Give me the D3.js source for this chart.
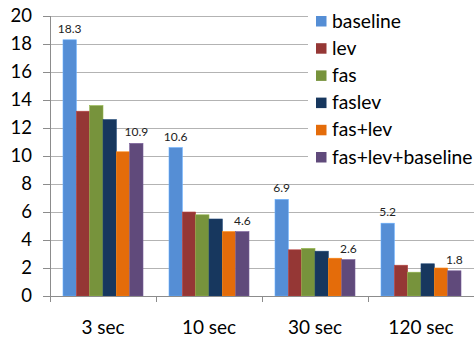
<!DOCTYPE html>
<html><head><meta charset="utf-8">
<script src="https://cdn.jsdelivr.net/npm/d3@7"></script>
<style>body{margin:0;background:#fff}svg{display:block}</style>
</head><body><svg id="c" width="474" height="338"></svg>
<script>
const categories = ["3 sec","10 sec","30 sec","120 sec"];
const seriesNames = ["baseline","lev","fas","faslev","fas+lev","fas+lev+baseline"];
const baseline = [18.3, 10.6, 6.9, 5.2];
const lev = [13.2, 6.0, 3.3, 2.2];
const fas = [13.6, 5.8, 3.4, 1.7];
const faslev = [12.6, 5.5, 3.2, 2.3];
const fasLev = [10.3, 4.6, 2.7, 2.0];
const fasLevBaseline = [10.9, 4.6, 2.6, 1.8];
const yTicks = [0,2,4,6,8,10,12,14,16,18,20];
const colors = ["#558ED5","#953735","#77933C","#17375E","#E46C0A","#604A7B"];
const seriesValues = [baseline, lev, fas, faslev, fasLev, fasLevBaseline];
const labelled = [0, 5];

(function(){
const font = "Lato, 'Open Sans', sans-serif";
const svg = d3.select("#c");
const mLeft = 50, mRight = 474, mTop = 16, mBottom = 296;
const x = d3.scaleBand().domain(categories).range([mLeft, mRight]);
const xi = d3.scaleBand().domain(seriesNames).range([13, 93]);
const y = d3.scaleLinear().domain([0,20]).range([mBottom, mTop]);

// gridlines
svg.append("g").selectAll("line").data(yTicks.filter(d=>d>0)).join("line")
  .attr("x1", mLeft-7).attr("x2", mRight).attr("y1", d=>y(d)).attr("y2", d=>y(d))
  .attr("stroke", "#b3b3b3").attr("stroke-width", 1).attr("shape-rendering","crispEdges");

// y axis
const yAxis = svg.append("g").attr("transform", `translate(${mLeft},0)`)
  .call(d3.axisLeft(y).tickValues(yTicks).tickSize(7).tickPadding(11));
yAxis.select(".domain").attr("stroke","#8c8c8c").attr("shape-rendering","crispEdges");
yAxis.selectAll(".tick line").attr("stroke","#8c8c8c").attr("shape-rendering","crispEdges");
yAxis.selectAll("text").attr("font-family", font).attr("font-size", 18.5).attr("fill","#000");

// bars
const groups = svg.append("g").selectAll("g").data(categories).join("g")
  .attr("transform", d=>`translate(${x(d)},0)`);
groups.each(function(cat, ci){
  const g = d3.select(this);
  seriesNames.forEach((s, si) => {
    const v = seriesValues[si][ci];
    g.append("rect").attr("x", xi(s)).attr("width", xi.bandwidth())
      .attr("y", y(v)).attr("height", y(0)-y(v))
      .attr("fill", colors[si]).attr("stroke", d3.color(colors[si]).brighter(0.6)).attr("stroke-width",0.6);
    if (labelled.includes(si)) {
      g.append("text").attr("x", xi(s)+xi.bandwidth()/2).attr("y", y(v)-7)
        .attr("text-anchor","middle").attr("font-family", font).attr("font-size", 12)
        .attr("fill","#222").text(v.toFixed(1));
    }
  });
});

// x axis
svg.append("line").attr("x1", mLeft).attr("x2", mRight).attr("y1", mBottom+0.5).attr("y2", mBottom+0.5)
  .attr("stroke","#8c8c8c");
svg.append("g").selectAll("line").data(categories).join("line")
  .attr("x1", d=>Math.round(x(d))+0.5).attr("x2", d=>Math.round(x(d))+0.5)
  .attr("y1", mBottom).attr("y2", mBottom+6).attr("stroke","#8c8c8c");
svg.append("g").selectAll("text").data(categories).join("text")
  .attr("x", d=>x(d)+x.bandwidth()/2).attr("y", 334)
  .attr("text-anchor","middle").attr("font-family", font).attr("font-size", 19)
  .attr("fill","#000").text(d=>d);

// legend
const lg = svg.append("g");
lg.append("rect").attr("x", 308).attr("y", 0).attr("width", 166).attr("height", 172).attr("fill","#fff");
seriesNames.forEach((s, i) => {
  const cy = 21 + i*27.2;
  lg.append("rect").attr("x", 316).attr("y", cy-5).attr("width", 10.5).attr("height", 10.5).attr("fill", colors[i]);
  lg.append("text").attr("x", 332).attr("y", cy+6.5).attr("font-family", font).attr("font-size", 19.3)
    .attr("fill","#000").text(s);
});
})();
</script></body></html>
